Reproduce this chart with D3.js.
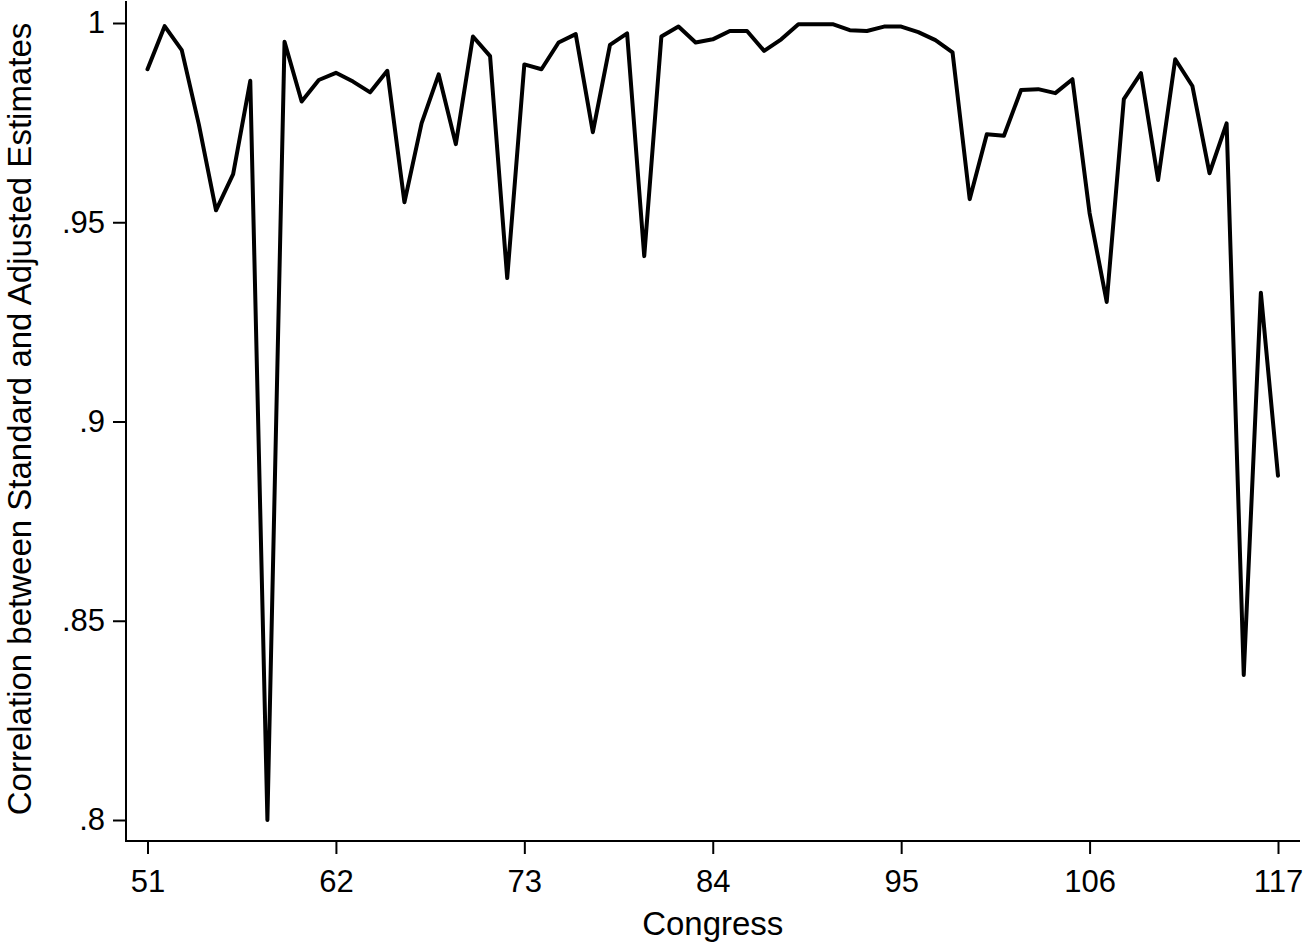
<!DOCTYPE html>
<html>
<head>
<meta charset="utf-8">
<script src="https://cdn.jsdelivr.net/npm/d3@7"></script>
<style>
  html, body { margin: 0; padding: 0; background: #fff; }
  svg { display: block; }
  text { font-family: "Liberation Sans", Arial, Helvetica, sans-serif; fill: #000; }
</style>
</head>
<body>
<svg id="chart" width="1304" height="945"></svg>
<script>
const congresses = d3.range(51, 118);
const correlations = [
  0.9884, 0.9992, 0.9932, 0.9745, 0.9530, 0.9621, 0.9855, 0.8000, 0.9953, 0.9803,
  0.9857, 0.9875, 0.9853, 0.9826, 0.9880, 0.9550, 0.9748, 0.9871, 0.9696, 0.9966,
  0.9917, 0.9360, 0.9896, 0.9884, 0.9951, 0.9972, 0.9726, 0.9945, 0.9974, 0.9415,
  0.9966, 0.9991, 0.9951, 0.9959, 0.9980, 0.9980, 0.9930, 0.9959, 0.9997, 0.9997,
  0.9997, 0.9982, 0.9980, 0.9991, 0.9991, 0.9977, 0.9957, 0.9926, 0.9558, 0.9721,
  0.9717, 0.9832, 0.9834, 0.9824, 0.9859, 0.9523, 0.9300, 0.9809, 0.9874, 0.9606,
  0.9909, 0.9842, 0.9623, 0.9748, 0.8364, 0.9323, 0.8864
];
const xTickValues = [51, 62, 73, 84, 95, 106, 117];
const yTickValues = [0.8, 0.85, 0.9, 0.95, 1];
const yTickLabels = [".8", ".85", ".9", ".95", "1"];
const xTitle = "Congress";
const yTitle = "Correlation between Standard and Adjusted Estimates";

const data = congresses.map((c, i) => ({ c, v: correlations[i] }));

const svg = d3.select("#chart");
const axisX0 = 126, axisY0 = 841;

const x = d3.scaleLinear().domain([51, 117]).range([147.5, 1278]);
const y = d3.scaleLinear().domain([0.8, 1]).range([820, 23]);

// axis lines
svg.append("line").attr("x1", axisX0).attr("x2", axisX0).attr("y1", axisY0).attr("y2", 1)
  .attr("stroke", "#000").attr("stroke-width", 2);
svg.append("line").attr("x1", axisX0 - 1).attr("x2", 1300).attr("y1", axisY0).attr("y2", axisY0)
  .attr("stroke", "#000").attr("stroke-width", 2);

const xAxis = d3.axisBottom(x).tickValues(xTickValues).tickSize(13).tickPadding(16)
  .tickFormat(d3.format("d"));
const gx = svg.append("g").attr("transform", `translate(0,${axisY0})`).call(xAxis);
gx.select(".domain").remove();
gx.selectAll(".tick line").attr("stroke", "#000").attr("stroke-width", 2);
gx.selectAll(".tick text").attr("font-size", 31).attr("fill", "#000")
  .style("font-family", '"Liberation Sans", Arial, sans-serif');

const yAxis = d3.axisLeft(y).tickValues(yTickValues).tickSize(13).tickPadding(8)
  .tickFormat((d, i) => yTickLabels[i]);
const gy = svg.append("g").attr("transform", `translate(${axisX0},0)`).call(yAxis);
gy.select(".domain").remove();
gy.selectAll(".tick line").attr("stroke", "#000").attr("stroke-width", 2);
gy.selectAll(".tick text").attr("font-size", 31).attr("fill", "#000")
  .style("font-family", '"Liberation Sans", Arial, sans-serif');

// line
const line = d3.line().x(d => x(d.c)).y(d => y(d.v));
svg.append("path").datum(data).attr("d", line)
  .attr("fill", "none").attr("stroke", "#000").attr("stroke-width", 4)
  .attr("stroke-linejoin", "round").attr("stroke-linecap", "round");

// titles
svg.append("text").attr("x", (x.range()[0] + x.range()[1]) / 2).attr("y", 935)
  .attr("text-anchor", "middle").attr("font-size", 33).text(xTitle);
svg.append("text").attr("transform", `translate(31,419) rotate(-90)`)
  .attr("text-anchor", "middle").attr("font-size", 33).text(yTitle);
</script>
</body>
</html>
